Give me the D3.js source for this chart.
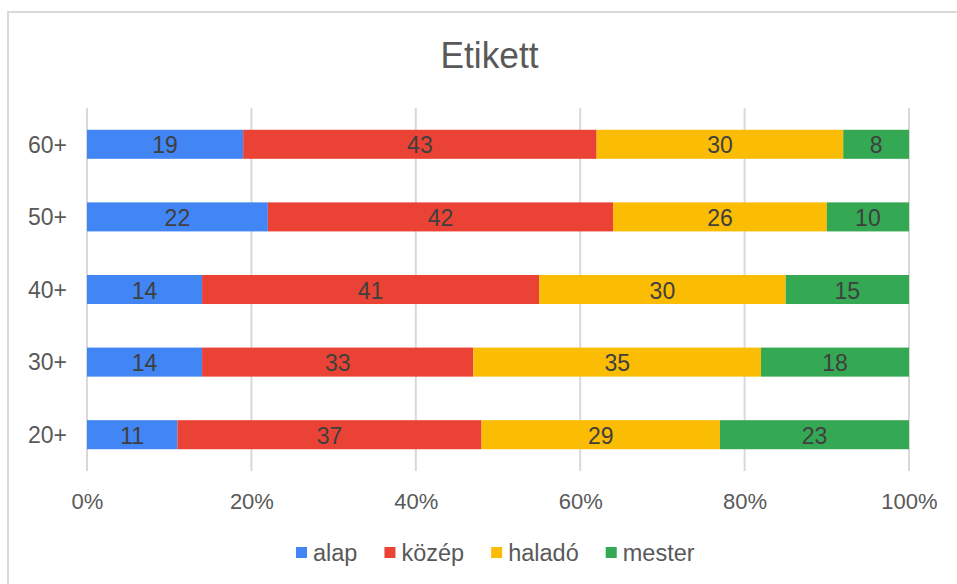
<!DOCTYPE html>
<html lang="hu">
<head>
  <meta charset="utf-8">
  <title>Etikett</title>
  <script src="https://d3js.org/d3.v7.min.js"></script>
  <style>
    body { margin: 0; background: #fff; }
    svg { display: block; font-family: "Liberation Sans", Arial, sans-serif; }
  </style>
</head>
<body>
<svg width="957" height="584"></svg>
<script>
  // data
  var categories = ["60+", "50+", "40+", "30+", "20+"];
  var seriesNames = ["alap", "közép", "haladó", "mester"];
  var alap   = [19, 22, 14, 14, 11];
  var kozep  = [43, 42, 41, 33, 37];
  var halado = [30, 26, 30, 35, 29];
  var mester = [8, 10, 15, 18, 23];
  var tickValues = [0, 0.2, 0.4, 0.6, 0.8, 1];
  var colors = ["#4285f4", "#ea4335", "#fbbc04", "#34a853"];

  var rows = categories.map(function(c, i) {
    return { cat: c, "alap": alap[i], "közép": kozep[i], "haladó": halado[i], "mester": mester[i] };
  });

  var svg = d3.select("svg");

  // chart frame
  svg.append("rect")
    .attr("x", 8).attr("y", 12)
    .attr("width", 1000).attr("height", 700)
    .attr("fill", "none")
    .attr("stroke", "#d9d9d9")
    .attr("stroke-width", 2);

  svg.append("text")
    .attr("x", 489.5).attr("y", 67.5)
    .attr("text-anchor", "middle")
    .attr("fill", "#595959")
    .style("font-size", "37px")
    .attr("textLength", 98)
    .attr("lengthAdjust", "spacingAndGlyphs")
    .text("Etikett");

  var x = d3.scaleLinear().domain([0, 1]).range([87, 909]);
  var y = d3.scaleBand().domain(categories).range([108, 471]).paddingInner(0.6).paddingOuter(0.3);

  // gridlines
  svg.append("g")
    .selectAll("line")
    .data(tickValues)
    .enter().append("line")
    .attr("x1", function(d) { return x(d); })
    .attr("x2", function(d) { return x(d); })
    .attr("y1", 108).attr("y2", 471)
    .attr("stroke", "#d9d9d9")
    .attr("stroke-width", 2);

  var stack = d3.stack().keys(seriesNames).offset(d3.stackOffsetExpand);
  var layers = stack(rows);

  var g = svg.append("g");
  layers.forEach(function(layer, li) {
    g.selectAll(".bar" + li)
      .data(layer)
      .enter().append("rect")
      .attr("x", function(d) { return x(d[0]); })
      .attr("width", function(d) { return x(d[1]) - x(d[0]); })
      .attr("y", function(d) { return y(d.data.cat); })
      .attr("height", y.bandwidth())
      .attr("fill", colors[li]);

    g.selectAll(".lbl" + li)
      .data(layer)
      .enter().append("text")
      .attr("x", function(d) { return (x(d[0]) + x(d[1])) / 2; })
      .attr("y", function(d) { return y(d.data.cat) + y.bandwidth() / 2 + 9; })
      .attr("text-anchor", "middle")
      .attr("fill", "#3f3f3f")
      .style("font-size", "23px")
      .text(function(d) { return d.data[layer.key]; });
  });

  // x axis labels
  var xAxis = svg.append("g")
    .attr("transform", "translate(0,471)")
    .call(d3.axisBottom(x).tickValues(tickValues).tickFormat(d3.format(".0%")).tickSize(0).tickPadding(38));
  xAxis.select(".domain").remove();
  xAxis.selectAll("text")
    .attr("fill", "#595959")
    .attr("dy", 0)
    .style("font-size", "22px")
    .style("font-family", "'Liberation Sans', Arial, sans-serif");

  // y axis labels
  var yAxis = svg.append("g")
    .attr("transform", "translate(67,0)")
    .call(d3.axisLeft(y).tickSize(0).tickPadding(0));
  yAxis.select(".domain").remove();
  yAxis.selectAll("text")
    .attr("fill", "#595959")
    .attr("dy", "0.36em")
    .style("font-size", "23px")
    .style("font-family", "'Liberation Sans', Arial, sans-serif");

  // legend
  var legend = svg.append("g");
  var lx = 296;
  seriesNames.forEach(function(name, i) {
    legend.append("rect")
      .attr("x", lx).attr("y", 547)
      .attr("width", 11).attr("height", 11)
      .attr("fill", colors[i]);
    var t = legend.append("text")
      .attr("x", lx + 17).attr("y", 561)
      .attr("fill", "#595959")
      .style("font-size", "23.5px")
      .text(name);
    lx += 17 + t.node().getComputedTextLength() + 27;
  });
</script>
</body>
</html>
